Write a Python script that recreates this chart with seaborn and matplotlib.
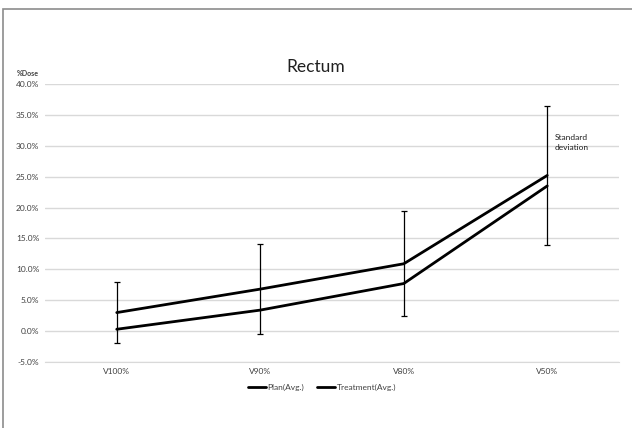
import matplotlib
matplotlib.use("Agg")
import matplotlib.pyplot as plt
import seaborn as sns
import pandas as pd
from matplotlib.ticker import PercentFormatter
from matplotlib.patches import Rectangle

# veri
categories = ["V100%", "V90%", "V80%", "V50%"]
plan_avg = [3.0, 6.8, 10.9, 25.2]
plan_sd = [5.0, 7.3, 8.5, 11.2]
treatment_avg = [0.3, 3.4, 7.7, 23.5]
y_ticks = [-5, 0, 5, 10, 15, 20, 25, 30, 35, 40]

df = pd.DataFrame({
    "metric": categories * 2,
    "dose": plan_avg + treatment_avg,
    "series": ["Plan(Avg.)"] * 4 + ["Treatment(Avg.)"] * 4,
})

sns.set_style("white")
plt.rcParams["font.family"] = ["Lato", "DejaVu Sans"]
plt.rcParams["axes.unicode_minus"] = False

fig = plt.figure(figsize=(6.32, 4.28), dpi=100)
ax = fig.add_axes([45 / 632, 1 - 362 / 428, 574 / 632, 278 / 428])

sns.lineplot(data=df, x="metric", y="dose", hue="series",
             palette=["black", "black"], linewidth=2.0, ax=ax, legend=False)

ax.errorbar(range(len(categories)), plan_avg, yerr=plan_sd, fmt="none",
            ecolor="black", elinewidth=0.9, capsize=2.5, capthick=0.9)

ax.set_xlim(-0.5, len(categories) - 0.5)
ax.set_ylim(-5, 40)
ax.set_yticks(y_ticks)
ax.yaxis.set_major_formatter(PercentFormatter(decimals=1))
ax.grid(axis="y", color="#d9d9d9", linewidth=1)
ax.set_axisbelow(True)
for s in ["top", "right", "left"]:
    ax.spines[s].set_visible(False)
ax.spines["bottom"].set_color("#d9d9d9")
ax.tick_params(axis="both", length=0, labelsize=6, colors="#404040", pad=4)
ax.set_xlabel("")
ax.set_ylabel("")

fig.text(316 / 632, 1 - 67 / 428, "Rectum", ha="center", va="center",
         fontsize=12.5, color="#202020")
fig.text(17 / 632, 1 - 73 / 428, "%Dose", ha="left", va="center",
         fontsize=5, fontweight="bold", color="#404040")
ax.text(3.05, 30.5, "Standard\ndeviation", ha="left", va="center",
        fontsize=6, color="#202020", linespacing=1.4)

handles = [plt.Line2D([], [], color="black", linewidth=2.0),
           plt.Line2D([], [], color="black", linewidth=2.0)]
fig.legend(handles, ["Plan(Avg.)", "Treatment(Avg.)"], loc="center",
           bbox_to_anchor=(322 / 632, 1 - 387 / 428), ncol=2, frameon=False,
           fontsize=6, handlelength=2.2, handletextpad=0.2, columnspacing=1.5,
           labelcolor="#404040")

# dış çerçeve
fig.patches.append(Rectangle((3 / 632, -0.1), 1.2, 1 - 9 / 428 + 0.1,
                             transform=fig.transFigure, fill=False,
                             edgecolor="#8c8c8c", linewidth=1.2))

fig.savefig("out.png", dpi=100)
